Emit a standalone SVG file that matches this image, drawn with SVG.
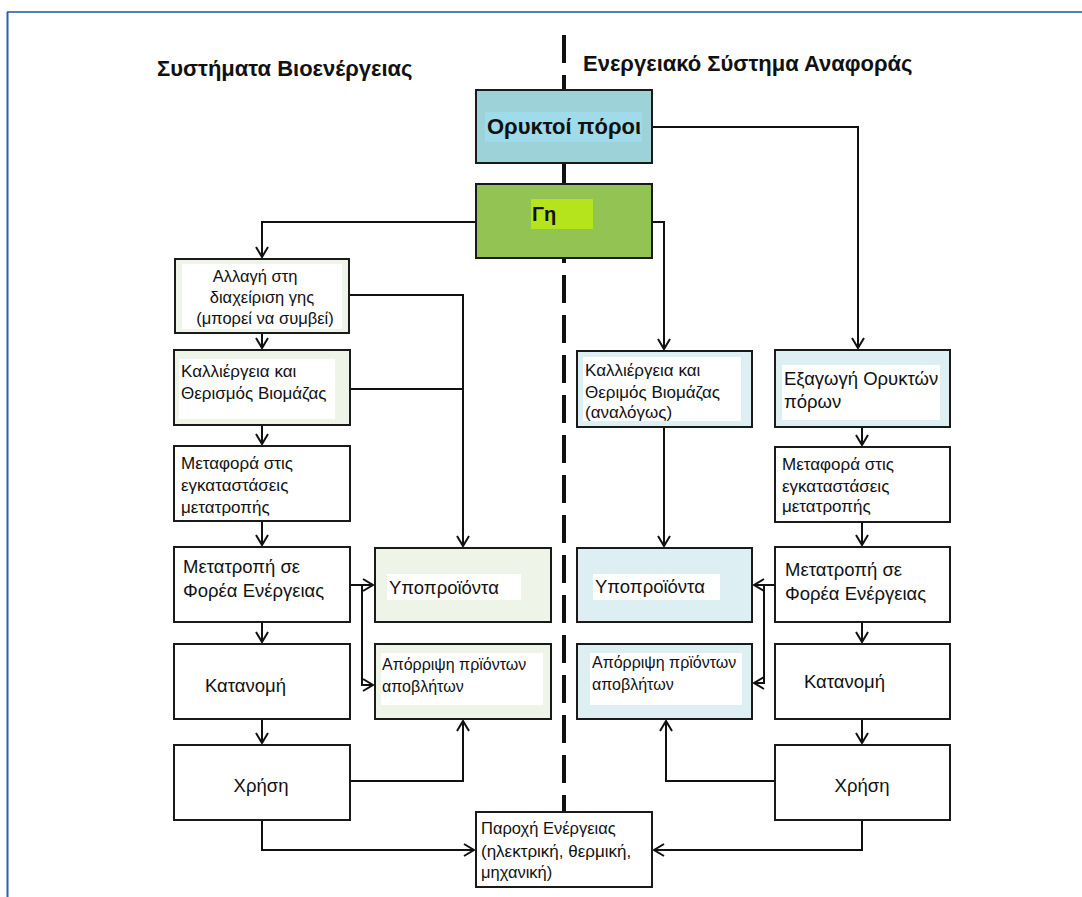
<svg xmlns="http://www.w3.org/2000/svg" width="1082" height="897" viewBox="0 0 1082 897">
<defs>
<marker id="arr" markerUnits="userSpaceOnUse" markerWidth="14" markerHeight="16" refX="11" refY="7" orient="auto">
<path d="M1,1 L11,7 L1,13" fill="none" stroke="#111" stroke-width="2"/>
</marker>
<style>
.box{stroke:#1a1a1a;stroke-width:2;}
.w{fill:#ffffff;}
.g{fill:#eef5e8;}
.b{fill:#ddeff3;}
.hl{fill:#ffffff;}
.t{font-family:"Liberation Sans",Arial,sans-serif;fill:#111;}
.s14{font-size:16px;}
.s15{font-size:17px;}
.s16{font-size:18.5px;}
.tb{font-family:"Liberation Sans",Arial,sans-serif;font-weight:bold;fill:#111;}
.c{fill:none;stroke:#111;stroke-width:2;}
</style>
</defs>
<rect x="0" y="0" width="1082" height="897" fill="#ffffff"/>
<g id="frame">
<line x1="7" y1="12" x2="1082" y2="12" stroke="#4f81bd" stroke-width="2"/>
<line x1="7.5" y1="12" x2="7.5" y2="897" stroke="#2f5fa8" stroke-width="2"/>
</g>
<g id="titles">
<text class="tb" x="157" y="76" font-size="22">Συστήματα Βιοενέργειας</text>
<text class="tb" x="583" y="71" font-size="22">Ενεργειακό Σύστημα Αναφοράς</text>
</g>
<g id="divider">
<line x1="564" y1="35" x2="564" y2="812" stroke="#111" stroke-width="4" stroke-dasharray="28 12"/>
</g>
<g id="connectors" class="c">
<path d="M652,127 H858 V348" marker-end="url(#arr)"/>
<path d="M476,222 H262 V257" marker-end="url(#arr)"/>
<path d="M652,222 H664 V349" marker-end="url(#arr)"/>
<path d="M262,333 V348" marker-end="url(#arr)"/>
<path d="M262,425 V444" marker-end="url(#arr)"/>
<path d="M262,521 V545" marker-end="url(#arr)"/>
<path d="M262,622 V642" marker-end="url(#arr)"/>
<path d="M262,719 V743" marker-end="url(#arr)"/>
<path d="M349,295 H463 V546" marker-end="url(#arr)"/>
<path d="M350,389 H463"/>
<path d="M350,585 H373" marker-end="url(#arr)"/>
<path d="M362,585 V685 H373" marker-end="url(#arr)"/>
<path d="M350,781 H463 V721" marker-end="url(#arr)"/>
<path d="M262,820 V850 H474" marker-end="url(#arr)"/>
<path d="M664,427 V546" marker-end="url(#arr)"/>
<path d="M862,427 V445" marker-end="url(#arr)"/>
<path d="M862,522 V545" marker-end="url(#arr)"/>
<path d="M862,622 V642" marker-end="url(#arr)"/>
<path d="M862,719 V743" marker-end="url(#arr)"/>
<path d="M775,585 H754" marker-end="url(#arr)"/>
<path d="M764,585 V683 H754" marker-end="url(#arr)"/>
<path d="M775,781 H666 V721" marker-end="url(#arr)"/>
<path d="M862,820 V850 H654" marker-end="url(#arr)"/>
</g>
<g id="n-orykta">
<rect class="box" x="476" y="90" width="176" height="73" fill="#9dd3d8"/>
<rect x="485" y="112" width="157" height="30" fill="#9fdbe8"/>
<text class="tb" x="564" y="134" font-size="22" text-anchor="middle">Ορυκτοί πόροι</text>
</g>
<g id="n-gi">
<rect class="box" x="476" y="184" width="176" height="74" fill="#92c353"/>
<rect x="531" y="199" width="62" height="30" fill="#b5e31c"/>
<text class="tb" x="532" y="221" font-size="20">Γη</text>
</g>
<g id="n-allagi">
<rect class="box g" x="175" y="259" width="174" height="74"/>
<rect class="hl" x="182" y="264" width="160" height="65"/>
<text class="t" font-size="16.5" x="255" y="282" text-anchor="middle">Αλλαγή στη</text>
<text class="t" font-size="16.5" x="262" y="303" text-anchor="middle">διαχείριση γης</text>
<text class="t" font-size="16.5" x="265" y="324" text-anchor="middle">(μπορεί να συμβεί)</text>
</g>
<g id="n-kall-l">
<rect class="box g" x="174" y="350" width="176" height="75"/>
<rect class="hl" x="179" y="359" width="156" height="60"/>
<text class="t s15" x="181" y="377">Καλλιέργεια και</text>
<text class="t s15" x="181" y="399">Θερισμός Βιομάζας</text>
</g>
<g id="n-metafora-l">
<rect class="box w" x="174" y="446" width="176" height="75"/>
<text class="t s15" x="181" y="469">Μεταφορά στις</text>
<text class="t s15" x="181" y="491">εγκαταστάσεις</text>
<text class="t s15" x="181" y="513">μετατροπής</text>
</g>
<g id="n-metatropi-l">
<rect class="box w" x="174" y="547" width="176" height="75"/>
<text class="t s16" x="183" y="573">Μετατροπή σε</text>
<text class="t s16" x="183" y="597">Φορέα Ενέργειας</text>
</g>
<g id="n-katanomi-l">
<rect class="box w" x="174" y="644" width="176" height="75"/>
<text class="t s16" x="205" y="692">Κατανομή</text>
</g>
<g id="n-xrisi-l">
<rect class="box w" x="174" y="745" width="176" height="75"/>
<text class="t s16" x="261" y="792" text-anchor="middle">Χρήση</text>
</g>
<g id="n-ypo-l">
<rect class="box g" x="375" y="548" width="176" height="74"/>
<rect class="hl" x="387" y="574" width="134" height="26"/>
<text class="t s16" x="389" y="594">Υποπροϊόντα</text>
</g>
<g id="n-aporr-l">
<rect class="box g" x="375" y="644" width="176" height="75"/>
<rect class="hl" x="381" y="653" width="162" height="52"/>
<text class="t s14" x="382" y="670">Απόρριψη πρϊόντων</text>
<text class="t s14" x="382" y="692">αποβλήτων</text>
</g>
<g id="n-paroxi">
<rect class="box w" x="476" y="812" width="176" height="75"/>
<text class="t" font-size="16.5" x="481" y="834">Παροχή Ενέργειας</text>
<text class="t" font-size="17" x="481" y="857">(ηλεκτρική, θερμική,</text>
<text class="t" font-size="16.5" x="481" y="878">μηχανική)</text>
</g>
<g id="n-kall-r">
<rect class="box b" x="577" y="351" width="175" height="76"/>
<rect class="hl" x="583" y="357" width="158" height="64"/>
<text class="t s15" x="585" y="376">Καλλιέργεια και</text>
<text class="t s15" x="585" y="398">Θεριμός Βιομάζας</text>
<text class="t s15" x="585" y="418">(αναλόγως)</text>
</g>
<g id="n-ypo-r">
<rect class="box b" x="577" y="548" width="175" height="74"/>
<rect class="hl" x="593" y="574" width="127" height="26"/>
<text class="t s16" x="595" y="593">Υποπροϊόντα</text>
</g>
<g id="n-aporr-r">
<rect class="box b" x="577" y="644" width="175" height="75"/>
<rect class="hl" x="590" y="653" width="152" height="52"/>
<text class="t s14" x="592" y="668">Απόρριψη πρϊόντων</text>
<text class="t s14" x="592" y="690">αποβλήτων</text>
</g>
<g id="n-exagogi">
<rect class="box b" x="775" y="350" width="175" height="77"/>
<rect class="hl" x="782" y="365" width="158" height="55"/>
<text class="t s16" x="784" y="385">Εξαγωγή Ορυκτών</text>
<text class="t s16" x="784" y="408">πόρων</text>
</g>
<g id="n-metafora-r">
<rect class="box w" x="775" y="447" width="175" height="75"/>
<text class="t s15" x="782" y="470">Μεταφορά στις</text>
<text class="t s15" x="782" y="492">εγκαταστάσεις</text>
<text class="t s15" x="782" y="512">μετατροπής</text>
</g>
<g id="n-metatropi-r">
<rect class="box w" x="775" y="547" width="175" height="75"/>
<text class="t s16" x="785" y="576">Μετατροπή σε</text>
<text class="t s16" x="785" y="600">Φορέα Ενέργειας</text>
</g>
<g id="n-katanomi-r">
<rect class="box w" x="775" y="644" width="175" height="75"/>
<text class="t s16" x="804" y="688">Κατανομή</text>
</g>
<g id="n-xrisi-r">
<rect class="box w" x="775" y="745" width="175" height="75"/>
<text class="t s16" x="862" y="792" text-anchor="middle">Χρήση</text>
</g>
</svg>
